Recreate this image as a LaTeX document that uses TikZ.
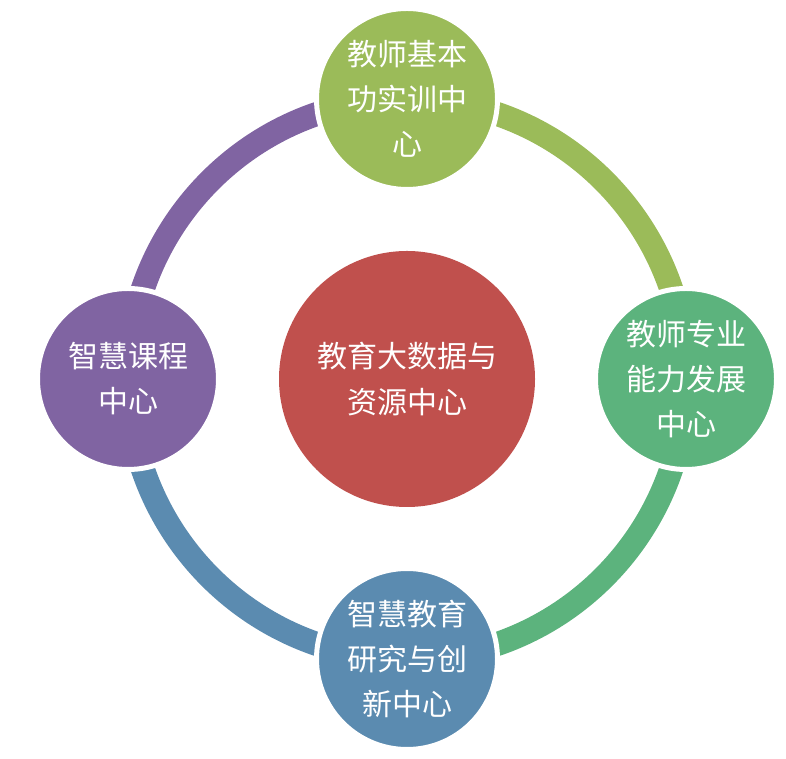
\documentclass[tikz,border=0pt]{standalone}
\usepackage{fontspec}
\newfontfamily\cjk{Noto Sans CJK SC}
\usetikzlibrary{backgrounds}
\definecolor{cOlive}{HTML}{9BBB59}
\definecolor{cGreen}{HTML}{5CB37D}
\definecolor{cBlue}{HTML}{5B8BB0}
\definecolor{cPurple}{HTML}{8064A2}
\definecolor{cRed}{HTML}{C0504D}
\tikzset{
  hub/.style={circle, fill=cRed, inner sep=0pt, minimum size=256pt,
    text=white, align=center, font=\cjk\fontsize{30}{46}\selectfont},
  sat/.style={circle, fill=#1, draw=white, line width=5pt, inner sep=0pt,
    minimum size=181pt, text=white, align=center,
    font=\cjk\fontsize{30}{45}\selectfont},
  ring/.style={draw=#1, line width=24pt, line cap=butt},
}
\begin{document}
\begin{tikzpicture}[x=1pt,y=1pt]
\useasboundingbox (0,0) rectangle (786,759);
\node[hub] (hub) at (407,380) {教育大数据与\\资源中心};
\node[sat=cOlive] (top) at (407,660) {教师基本\\功实训中\\心};
\node[sat=cGreen] (right) at (686,380) {教师专业\\能力发展\\中心};
\node[sat=cBlue] (bottom) at (407,100) {智慧教育\\研究与创\\新中心};
\node[sat=cPurple] (left) at (128,380) {智慧课程\\中心};
\begin{pgfonlayer}{background}
\draw[ring=cOlive] (top.center) to[out=0,in=90] (right.center);
\draw[ring=cGreen] (right.center) to[out=-90,in=0] (bottom.center);
\draw[ring=cBlue] (bottom.center) to[out=180,in=-90] (left.center);
\draw[ring=cPurple] (left.center) to[out=90,in=180] (top.center);
\end{pgfonlayer}
\end{tikzpicture}
\end{document}
